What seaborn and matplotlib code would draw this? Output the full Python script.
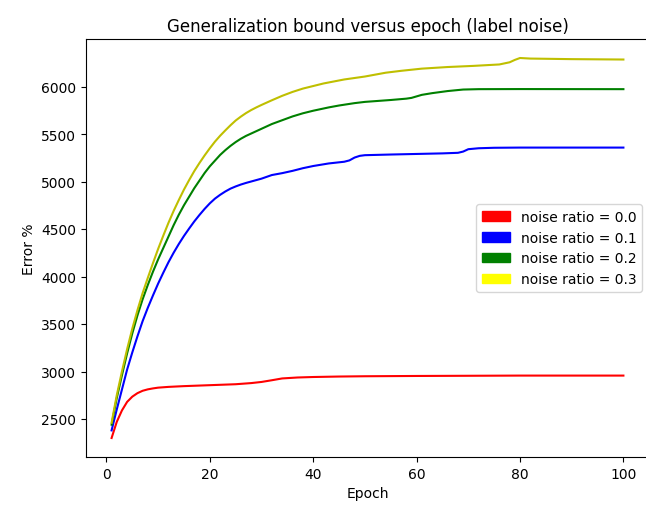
import matplotlib
matplotlib.use("Agg")
import matplotlib.pyplot as plt
import matplotlib.patches as mpatches
import seaborn as sns
import pandas as pd

# ---- data ----
labels = ["noise ratio = 0.0", "noise ratio = 0.1", "noise ratio = 0.2", "noise ratio = 0.3"]
line_colors = ["r", "b", "g", "y"]
legend_colors = ["red", "blue", "green", "yellow"]

red_epochs = [1, 2, 3, 4, 5, 6, 7, 8, 9, 10, 12, 15, 20, 25, 28, 30, 32, 34, 37, 40, 45, 50, 60, 70, 80, 90, 100]
red_values = [2300, 2470, 2590, 2680, 2735, 2772, 2797, 2812, 2822, 2830, 2838, 2846, 2856, 2866, 2878, 2890,
              2908, 2927, 2937, 2942, 2947, 2950, 2953, 2955, 2957, 2957, 2957]

blue_epochs = [1, 2, 3, 4, 5, 6, 7, 8, 9, 10, 11, 12, 13, 14, 15, 16, 17, 18, 19, 20, 21, 22, 23, 24, 25, 26,
               27, 28, 29, 30, 32, 34, 36, 38, 40, 43, 46, 47, 48, 49, 50, 55, 60, 65, 68, 69, 70, 72, 75, 80,
               90, 100]
blue_values = [2380, 2600, 2810, 3020, 3200, 3370, 3530, 3670, 3800, 3925, 4040, 4150, 4250, 4342, 4427, 4505,
               4580, 4648, 4712, 4770, 4820, 4860, 4895, 4925, 4948, 4968, 4985, 5000, 5015, 5030, 5068, 5088,
               5112, 5140, 5163, 5190, 5208, 5222, 5252, 5270, 5277, 5284, 5290, 5296, 5302, 5315, 5340, 5350,
               5355, 5357, 5357, 5357]

green_epochs = [1, 2, 3, 4, 5, 6, 7, 8, 9, 10, 11, 12, 13, 14, 15, 16, 17, 18, 19, 20, 21, 22, 23, 24, 25, 26,
                27, 28, 29, 30, 32, 34, 36, 38, 40, 43, 45, 48, 50, 55, 58, 59, 61, 63, 66, 69, 72, 80, 100]
green_values = [2440, 2720, 2960, 3190, 3400, 3590, 3760, 3910, 4050, 4180, 4300, 4420, 4540, 4650, 4750, 4840,
                4930, 5010, 5090, 5160, 5220, 5280, 5330, 5375, 5415, 5450, 5480, 5505, 5530, 5555, 5605, 5645,
                5685, 5718, 5745, 5780, 5800, 5825, 5838, 5858, 5872, 5880, 5912, 5930, 5952, 5968, 5972, 5973,
                5972]

yellow_epochs = [1, 2, 3, 4, 5, 6, 7, 8, 9, 10, 11, 12, 13, 14, 15, 16, 17, 18, 19, 20, 21, 22, 23, 24, 25, 26,
                 27, 28, 29, 30, 32, 34, 36, 38, 40, 42, 46, 50, 54, 57, 61, 66, 71, 76, 78, 79, 80, 82, 90, 100]
yellow_values = [2460, 2750, 3000, 3235, 3450, 3645, 3825, 3985, 4140, 4290, 4430, 4565, 4690, 4805, 4915, 5015,
                 5110, 5195, 5275, 5350, 5420, 5482, 5538, 5592, 5642, 5683, 5720, 5752, 5780, 5806, 5855, 5902,
                 5943, 5978, 6005, 6032, 6074, 6105, 6145, 6165, 6188, 6205, 6217, 6232, 6255, 6280, 6300, 6294,
                 6288, 6284]

series = [(red_epochs, red_values), (blue_epochs, blue_values),
          (green_epochs, green_values), (yellow_epochs, yellow_values)]

rows = []
for lab, (ep, vals) in zip(labels, series):
    for e, v in zip(ep, vals):
        rows.append({"Epoch": e, "Error": v, "series": lab})
df = pd.DataFrame(rows)

# ---- figure ----
W, H = 646, 506
fig = plt.figure(figsize=(W / 100, H / 100), dpi=100)
ax = fig.add_axes([86 / W, (H - 458) / H, (649 - 86) / W, (458 - 40) / H])

sns.lineplot(data=df, x="Epoch", y="Error", hue="series", palette=dict(zip(labels, line_colors)),
             ax=ax, legend=False, linewidth=1.5, sort=True, estimator=None)

ax.set_title("Generalization bound versus epoch (label noise)", fontsize=12)
ax.set_xlabel("Epoch")
ax.set_ylabel("Error %")
ax.set_xticks([0, 20, 40, 60, 80, 100])
ax.set_yticks([2500, 3000, 3500, 4000, 4500, 5000, 5500, 6000])

handles = [mpatches.Patch(color=c, label=l) for c, l in zip(legend_colors, labels)]
ax.legend(handles=handles, loc="center right")

fig.savefig("out.png", dpi=100)
